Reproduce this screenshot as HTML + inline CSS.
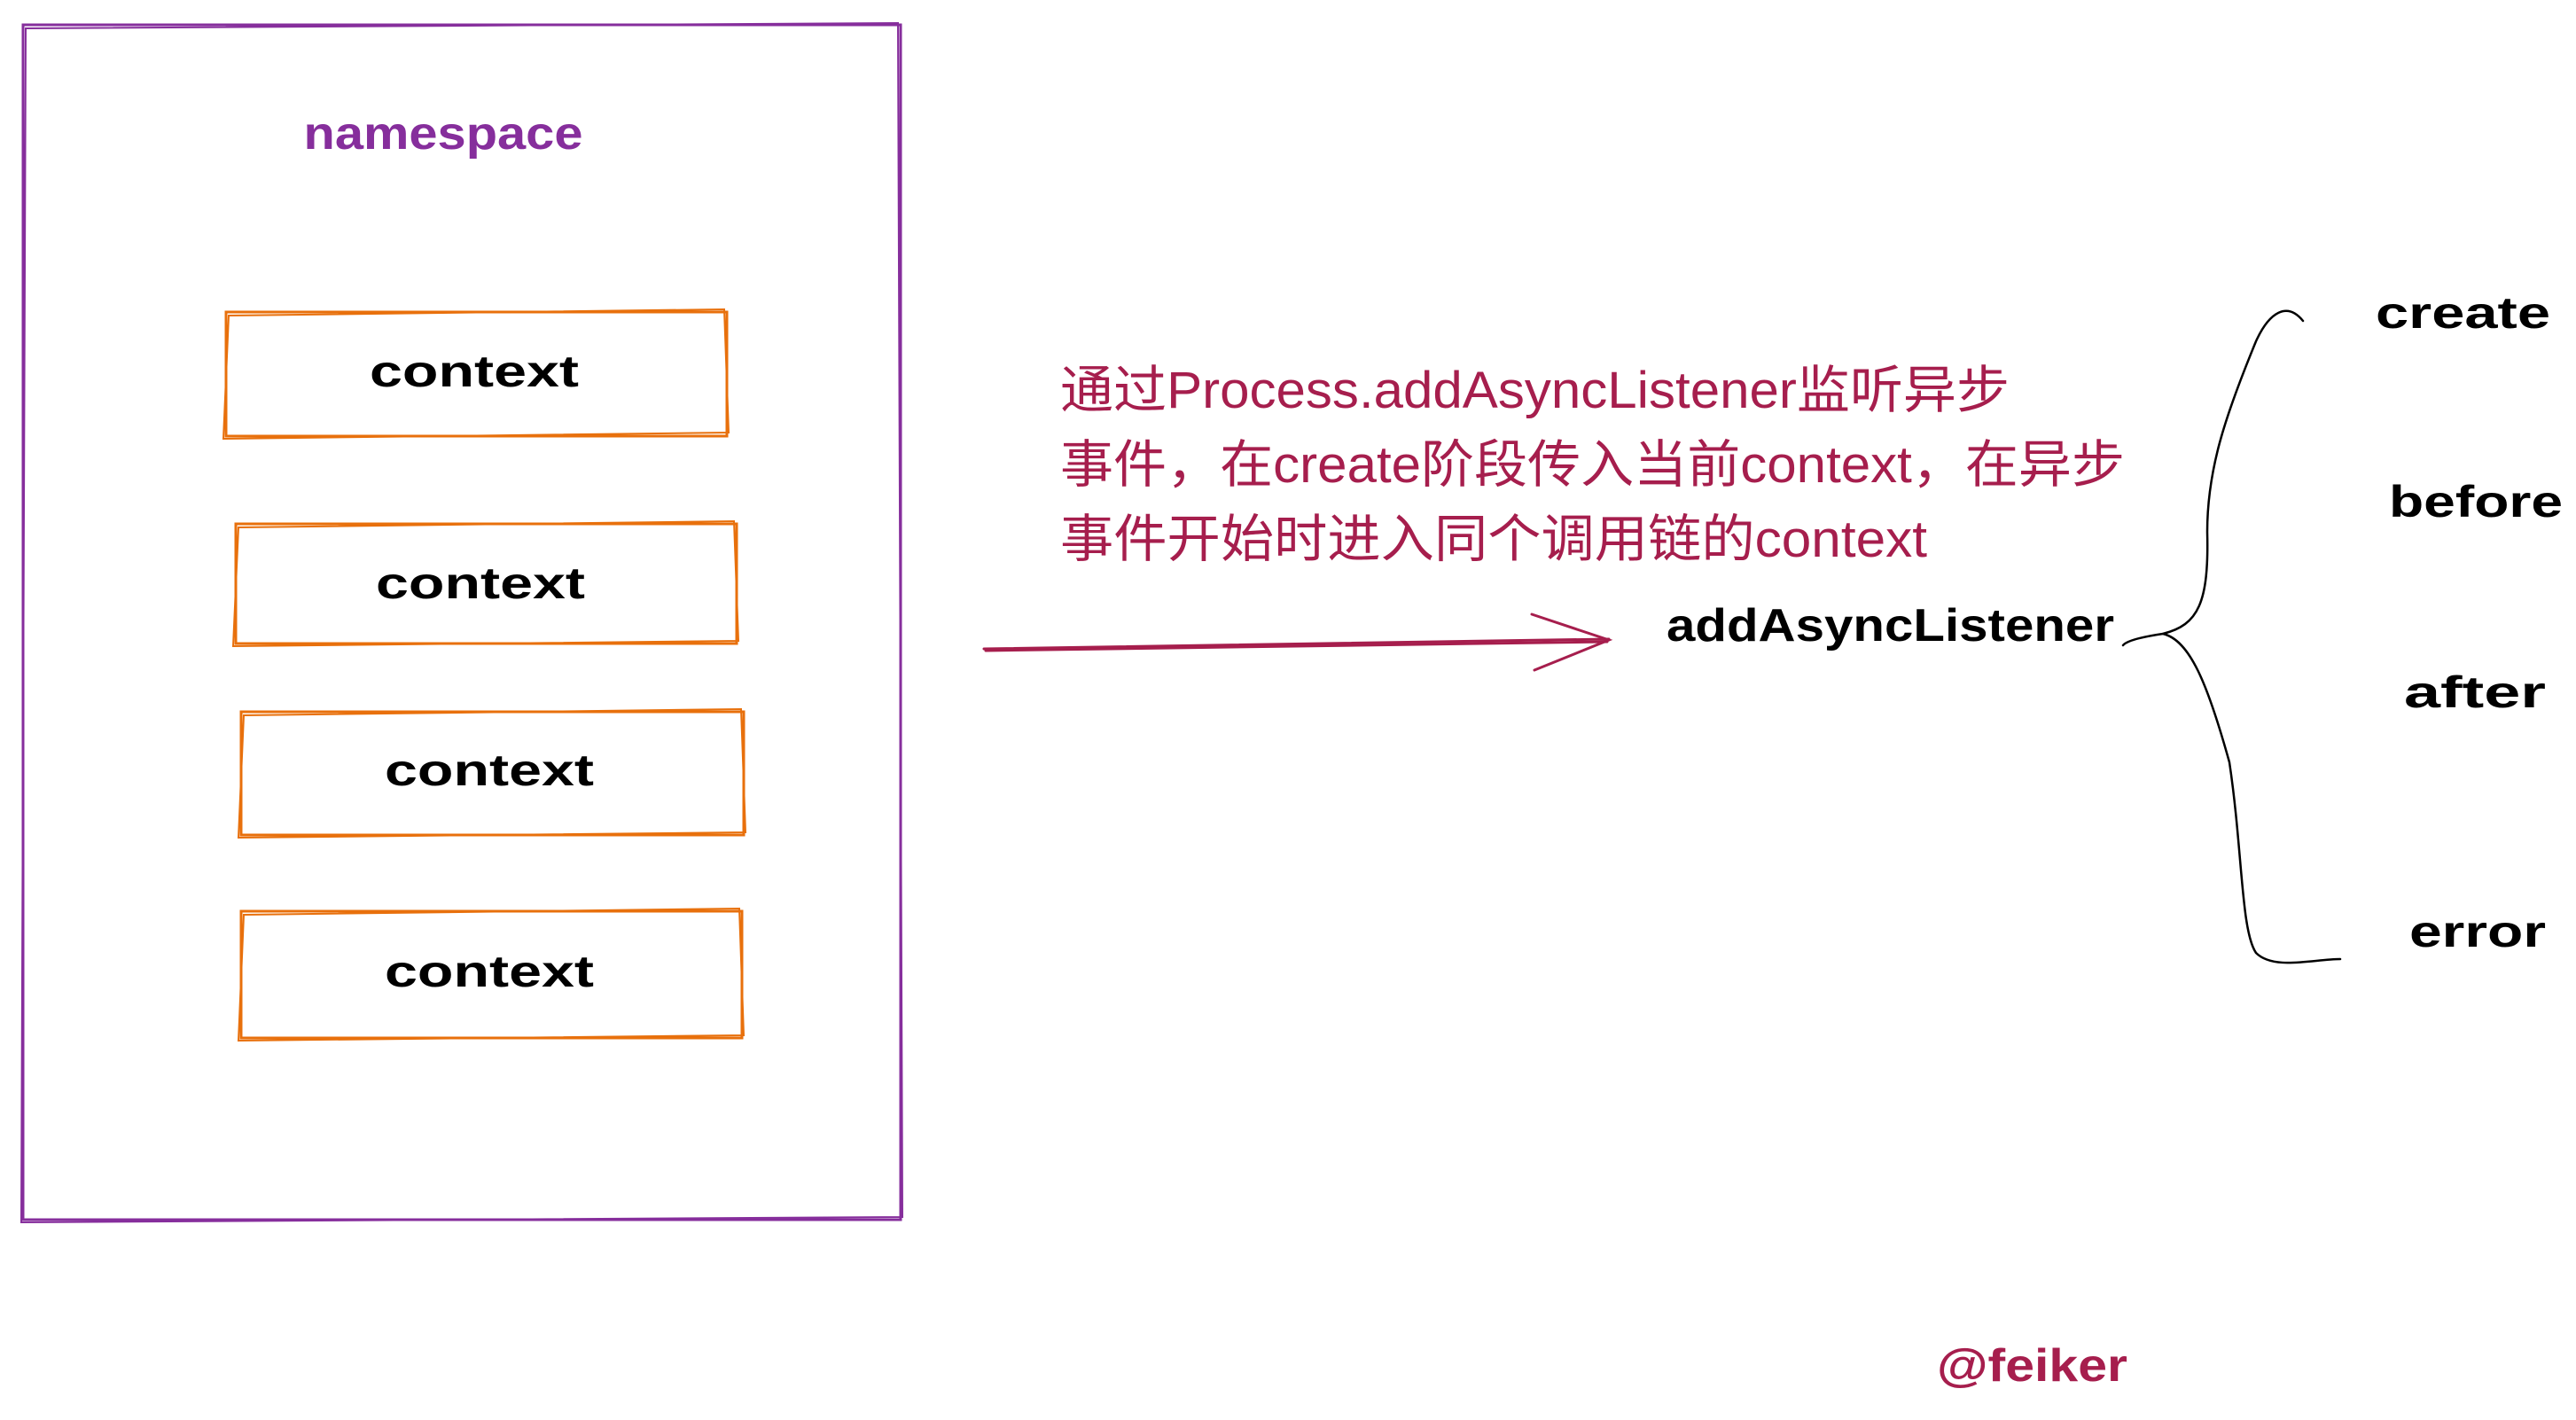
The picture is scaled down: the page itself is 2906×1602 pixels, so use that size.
<!DOCTYPE html>
<html><head><meta charset="utf-8"><style>html,body{margin:0;padding:0;background:#fff}svg{display:block}</style></head>
<body>
<svg width="2906" height="1602" viewBox="0 0 2906 1602" xmlns="http://www.w3.org/2000/svg" font-family="'Liberation Sans','Noto Sans CJK SC',sans-serif">
<rect width="2906" height="1602" fill="#fff"/>
<g fill="none" stroke="#862e9c" stroke-width="3">
<path d="M26 28 L1016 28 L1016 1376 L26 1376 Z"/>
<path d="M29 32 L1013 26 L1018 1373 L24 1379 Z" stroke-width="2"/>
</g>
<text x="500" y="168" text-anchor="middle" font-size="52" font-weight="bold" fill="#862e9c" textLength="315" lengthAdjust="spacingAndGlyphs">namespace</text>
<g fill="none" stroke="#e8700c" stroke-width="3">
<rect x="255" y="352" width="565" height="140"/><path d="M258 356 L817 349 L822 488 L252 495 Z" stroke-width="2"/>
<rect x="266" y="591" width="565" height="135"/><path d="M269 595 L828 588 L833 723 L263 729 Z" stroke-width="2"/>
<rect x="272" y="803" width="567" height="139"/><path d="M275 807 L836 800 L841 939 L269 945 Z" stroke-width="2"/>
<rect x="272" y="1028" width="565" height="143"/><path d="M275 1032 L834 1025 L839 1168 L269 1174 Z" stroke-width="2"/>
</g>
<g font-size="50" font-weight="bold" fill="#000" text-anchor="middle">
<text x="535" y="436" textLength="236" lengthAdjust="spacingAndGlyphs">context</text>
<text x="542" y="675" textLength="236" lengthAdjust="spacingAndGlyphs">context</text>
<text x="552" y="886" textLength="236" lengthAdjust="spacingAndGlyphs">context</text>
<text x="552" y="1113" textLength="236" lengthAdjust="spacingAndGlyphs">context</text>
</g>
<g font-size="58" fill="#a61e4d">
<text x="1196" y="460" textLength="1071" lengthAdjust="spacingAndGlyphs">通过Process.addAsyncListener监听异步</text>
<text x="1196" y="544" textLength="1201" lengthAdjust="spacingAndGlyphs">事件，在create阶段传入当前context，在异步</text>
<text x="1196" y="628" textLength="978" lengthAdjust="spacingAndGlyphs">事件开始时进入同个调用链的context</text>
</g>
<g fill="none" stroke="#a61e4d" stroke-width="3" stroke-linecap="round">
<path d="M1110 732 L1815 721"/><path d="M1112 734 L1813 724"/>
<path d="M1728 693 L1815 722 L1731 756"/>
</g>
<text x="1880" y="723" font-size="52" font-weight="bold" fill="#000" textLength="505" lengthAdjust="spacingAndGlyphs">addAsyncListener</text>
<g fill="none" stroke="#000" stroke-width="2.5" stroke-linecap="round">
<path d="M2598 362 C2580 340 2560 352 2545 385 C2510 470 2490 530 2490 600 C2492 680 2480 705 2440 715 C2420 718 2400 722 2395 728"/>
<path d="M2440 715 C2470 722 2490 770 2515 860 C2530 960 2528 1050 2545 1075 C2565 1095 2610 1082 2640 1082"/>
</g>
<g font-size="50" font-weight="bold" fill="#000">
<text x="2680" y="370" textLength="197" lengthAdjust="spacingAndGlyphs">create</text>
<text x="2695" y="583" textLength="196" lengthAdjust="spacingAndGlyphs">before</text>
<text x="2712" y="798" textLength="160" lengthAdjust="spacingAndGlyphs">after</text>
<text x="2718" y="1068" textLength="154" lengthAdjust="spacingAndGlyphs">error</text>
</g>
<text x="2185" y="1558" font-size="52" font-weight="bold" fill="#a61e4d" textLength="215" lengthAdjust="spacingAndGlyphs">@feiker</text>
</svg>
</body></html>
